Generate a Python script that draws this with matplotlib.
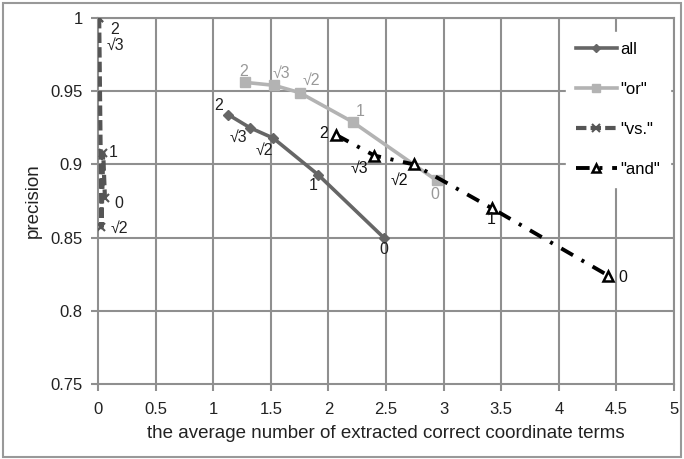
import matplotlib
matplotlib.use("Agg")
import matplotlib.pyplot as plt
from matplotlib.patches import Rectangle

plt.rcParams['font.family'] = ['Liberation Sans', 'DejaVu Sans']

# point labels (same order for every series)
point_labels = ['2', '\u221a3', '\u221a2', '1', '0']

# "all"
all_x = [1.13, 1.32, 1.52, 1.91, 2.48]
all_y = [0.934, 0.925, 0.918, 0.893, 0.850]

# "or"
or_x = [1.28, 1.53, 1.75, 2.21, 2.94]
or_y = [0.956, 0.954, 0.949, 0.929, 0.889]

# "vs."
vs_x = [0.01, 0.01, 0.03, 0.045, 0.06]
vs_y = [1.0, 1.0, 0.857, 0.908, 0.877]

# "and"
and_x = [2.07, 2.40, 2.74, 3.42, 4.43]
and_y = [0.920, 0.906, 0.900, 0.870, 0.824]

x_ticks = [0, 0.5, 1, 1.5, 2, 2.5, 3, 3.5, 4, 4.5, 5]
y_ticks = [0.75, 0.8, 0.85, 0.9, 0.95, 1]

# label offsets in pixels
all_off = [(-10, 9), (-12, -10), (-9, -12), (-5, -11), (0, -12)]
or_off = [(-2, 11), (7, 12), (12, 12), (8, 10), (-2, -14)]
vs_off = [(15, -12), (16, -27), (18, -1), (10, 0), (14, -5)]
and_off = [(-13, 2), (-15, -13), (-14, -16), (-1, -11), (14, -2)]

fig = plt.figure(figsize=(6.84, 4.59), dpi=100)
ax = fig.add_axes([0.1433, 0.1634, 0.8421, 0.7974])

grid_c = '#8f8f8f'
for v in x_ticks[1:]:
    ax.axvline(v, color=grid_c, lw=1.5, zorder=0)
for v in y_ticks[1:]:
    ax.axhline(v, color=grid_c, lw=1.5, zorder=0)

ax.plot(all_x, all_y, color='#666666', lw=2.6, marker='D', ms=5, label='all', zorder=3)
ax.plot(or_x, or_y, color='#b3b3b3', lw=2.6, marker='s', ms=6.5, label='"or"', zorder=3)
ax.plot(vs_x, vs_y, color='#555555', lw=3, ls=(0, (2.5, 1)), marker='x', ms=6, mew=1.5,
        label='"vs."', zorder=3)
ax.plot(and_x, and_y, color='black', lw=2.8, ls=(0, (3.5, 2.5, 0.8, 2.5)), marker='^', ms=7,
        mfc='white', mec='black', mew=1.8, label='"and"', zorder=4)

def put_labels(xs, ys, offs, color):
    for x, y, t, o in zip(xs, ys, point_labels, offs):
        ax.annotate(t, (x, y), xytext=o, textcoords='offset pixels', ha='center',
                    va='center', fontsize=11.5, color=color, zorder=5)

put_labels(all_x, all_y, all_off, '#222222')
put_labels(or_x, or_y, or_off, '#999999')
put_labels(vs_x, vs_y, vs_off, '#222222')
put_labels(and_x, and_y, and_off, '#111111')

ax.set_xlim(0, 5)
ax.set_ylim(0.75, 1)
ax.set_xticks(x_ticks)
ax.set_xticklabels(['0', '0.5', '1', '1.5', '2', '2.5', '3', '3.5', '4', '4.5', '5'])
ax.set_yticks(y_ticks)
ax.set_yticklabels(['0.75', '0.8', '0.85', '0.9', '0.95', '1'])
ax.tick_params(axis='x', direction='out', length=5, color=grid_c, width=1.5, pad=8,
               labelsize=12, labelcolor='#222222')
ax.tick_params(axis='y', direction='out', length=5, color=grid_c, width=1.5, pad=6,
               labelsize=12, labelcolor='#222222')
for s in ax.spines.values():
    s.set_color(grid_c)
    s.set_linewidth(1.5)

ax.set_xlabel('the average number of extracted correct coordinate terms', fontsize=13.5,
              color='#222222', labelpad=6)
ax.set_ylabel('precision', fontsize=13.5, color='#222222', labelpad=6)

leg = ax.legend(loc='upper right', bbox_to_anchor=(1.008, 0.985), frameon=True,
                fontsize=12, labelspacing=1.5, handlelength=2.5, handletextpad=0.2,
                borderpad=0.6, markerscale=0.9)
leg.get_frame().set_edgecolor('white')
leg.get_frame().set_facecolor('white')
leg.get_frame().set_alpha(1)
leg.get_frame().set_boxstyle('square', pad=0)

fig.patches.append(Rectangle((0.004, 0.005), 0.991, 0.988, transform=fig.transFigure,
                             fill=False, edgecolor='#999999', lw=1.5))

fig.savefig('out.png', dpi=100)
